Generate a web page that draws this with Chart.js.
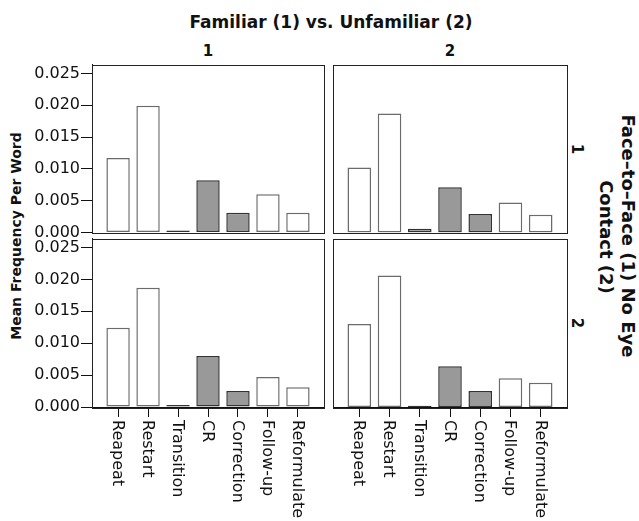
<!DOCTYPE html>
<html>
<head>
<meta charset="utf-8">
<script src="https://cdn.jsdelivr.net/npm/chart.js@4.4.1/dist/chart.umd.min.js"></script>
<style>
	body { margin:0; background:#fff; width:639px; height:521px; overflow:hidden; position:relative; font-family:"DejaVu Sans", sans-serif; color:#111; }
	canvas { position:absolute; left:0; top:0; }
	.lbl { position:absolute; white-space:nowrap; font-weight:bold; transform:translate(-50%,-50%); }
	.cw { transform:translate(-50%,-50%) rotate(90deg); }
	.ccw { transform:translate(-50%,-50%) rotate(-90deg); }
</style>
</head>
<body>
<div class="lbl" style="left:331px;top:22px;font-size:17px">Familiar (1) vs. Unfamiliar (2)</div>
<div class="lbl" style="left:208px;top:51px;font-size:15px">1</div>
<div class="lbl" style="left:450px;top:51px;font-size:15px">2</div>
<div class="lbl cw" style="left:577px;top:149px;font-size:15px">1</div>
<div class="lbl cw" style="left:577px;top:323px;font-size:15px">2</div>
<div class="lbl cw" style="left:628px;top:236px;font-size:18px">Face–to–Face (1) No Eye</div>
<div class="lbl cw" style="left:606px;top:237px;font-size:18px">Contact (2)</div>
<div class="lbl ccw" style="left:16px;top:236px;font-size:14px">Mean Frequency Per Word</div>

<canvas id="tl" width="639" height="521"></canvas>
<canvas id="tr" width="639" height="521"></canvas>
<canvas id="bl" width="639" height="521"></canvas>
<canvas id="br" width="639" height="521"></canvas>

<script>
const categories = ['Reapeat', 'Restart', 'Transition', 'CR', 'Correction', 'Follow-up', 'Reformulate'];
const shadedCategories = ['Transition', 'CR', 'Correction'];

// mean frequency per word, rows = face-to-face / no eye contact, cols = familiar / unfamiliar
const familiarFaceToFace   = [0.0117, 0.0199, 0.0003, 0.0082, 0.0031, 0.0060, 0.0031];
const unfamiliarFaceToFace = [0.0102, 0.0187, 0.0006, 0.0071, 0.0029, 0.0047, 0.0028];
const familiarNoEye        = [0.0124, 0.0187, 0.0003, 0.0080, 0.0025, 0.0047, 0.0031];
const unfamiliarNoEye      = [0.0130, 0.0206, 0.0002, 0.0064, 0.0025, 0.0045, 0.0038];

const yTicks = [0, 0.005, 0.010, 0.015, 0.020, 0.025];

const FONT = '"DejaVu Sans", sans-serif';

// frame around each panel
const frame = {
	id: 'frame',
	afterDraw(chart){
		const a = chart.chartArea, ctx = chart.ctx;
		ctx.save();
		ctx.strokeStyle = '#222';
		ctx.lineWidth = 1;
		ctx.strokeRect(Math.round(a.left) + 0.5, Math.round(a.top) + 0.5, Math.round(a.right - a.left), Math.round(a.bottom - a.top));
		ctx.restore();
	}
}

// category names, rotated clockwise under the bottom panels
const xLabels = {
	id: 'xLabels',
	afterDraw(chart){
		if(!chart.options.plugins.xLabels.show) return;
		const xs = chart.scales.x, ctx = chart.ctx;
		ctx.save();
		ctx.font = '16px ' + FONT;
		ctx.fillStyle = '#111';
		ctx.textAlign = 'left';
		ctx.textBaseline = 'middle';
		categories.forEach(function(c, i){
			ctx.save();
			ctx.translate(xs.getPixelForValue(i) - 1, xs.top + 13);
			ctx.rotate(Math.PI / 2);
			ctx.fillText(c, 0, 0);
			ctx.restore();
		})
		ctx.restore();
	}
}

function makePanel(id, values, left, right, top, bottom, showY, showX){
	const ctx = document.getElementById(id);
	return new Chart(ctx, {
		type: 'bar',
		data: {
			datasets: [{
				data: values.map((v, i) => ({x: i, y: v})),
				backgroundColor: categories.map(c => shadedCategories.includes(c) ? '#999999' : '#ffffff'),
				borderColor: categories.map(c => shadedCategories.includes(c) ? '#333333' : '#6b6b6b'),
				borderWidth: 1.5,
				borderSkipped: false,
				categoryPercentage: 1,
				barPercentage: 0.78
			}]
		},
		options: {
			responsive: false,
			animation: false,
			devicePixelRatio: 1,
			layout: {
				padding: {left: showY ? 0 : left, top: top, right: 639 - right, bottom: showX ? 14 : 521 - bottom}
			},
			plugins: {
				legend: {display: false},
				tooltip: {enabled: false},
				xLabels: {show: showX}
			},
			scales: {
				x: {
					type: 'linear',
					min: -0.87,
					max: 6.87,
					offset: false,
					display: showX,
					afterBuildTicks: (s) => { s.ticks = categories.map((c, i) => ({value: i})) },
					afterFit: (s) => { if(showX) s.height = 521 - 14 - bottom },
					grid: {offset: false, drawOnChartArea: false, drawTicks: true, tickLength: 10, color: '#111'},
					border: {display: true, color: '#111', width: 1},
					ticks: {display: false}
				},
				y: {
					min: 0,
					max: 0.0264,
					display: showY,
					afterBuildTicks: (s) => { s.ticks = yTicks.map(v => ({value: v})) },
					afterFit: (s) => { if(showY) s.width = left },
					grid: {drawOnChartArea: false, drawTicks: true, tickLength: 11, color: '#111'},
					border: {display: true, color: '#111', width: 1},
					ticks: {
						font: {family: FONT, size: 16},
						color: '#111',
						padding: 1,
						callback: (v) => v.toFixed(3)
					}
				}
			}
		},
		plugins: [frame, xLabels]
	})
}

makePanel('tl', familiarFaceToFace,   92, 324, 64.5, 232.5, true,  false);
makePanel('tr', unfamiliarFaceToFace, 333, 567, 64.5, 232.5, false, false);
makePanel('bl', familiarNoEye,        92, 324, 238.5, 407, true,  true);
makePanel('br', unfamiliarNoEye,      333, 567, 238.5, 407, false, true);
</script>
</body>
</html>
